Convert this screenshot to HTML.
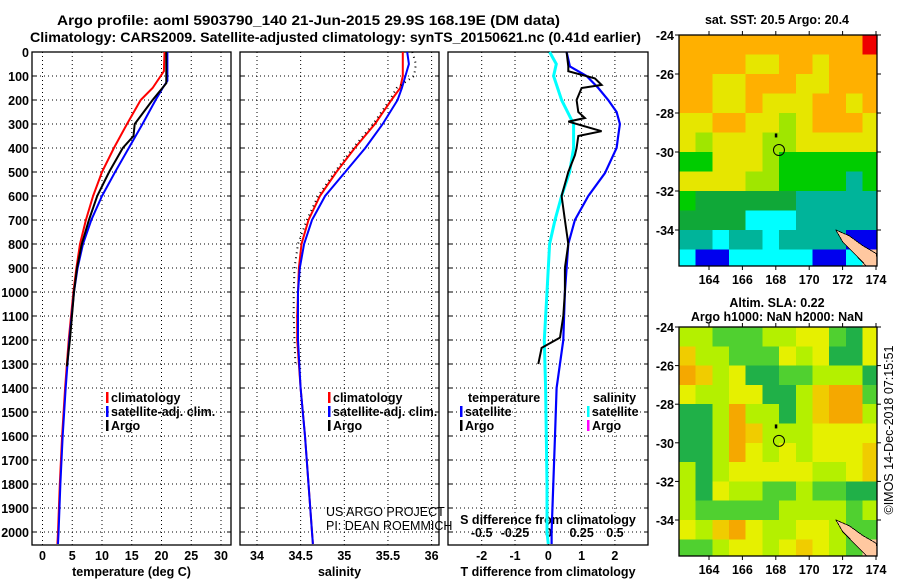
<!DOCTYPE html>
<html><head><meta charset="utf-8"><style>
html,body{margin:0;padding:0;background:#fff;}
svg{display:block;font-family:"Liberation Sans",sans-serif;}
.b{font-weight:bold;font-size:14px;}
.t{font-weight:bold;font-size:12.5px;}
</style></head><body>
<svg id="chart" width="900" height="580" viewBox="0 0 900 580" xmlns="http://www.w3.org/2000/svg">
<text class="b" x="57" y="25" textLength="503" lengthAdjust="spacingAndGlyphs">Argo profile: aoml 5903790_140 21-Jun-2015 29.9S 168.19E (DM data)</text>
<text class="b" x="30" y="42" textLength="611" lengthAdjust="spacingAndGlyphs">Climatology: CARS2009. Satellite-adjusted climatology: synTS_20150621.nc (0.41d earlier)</text>
<g id="g"></g>
</svg>
<script>
// ---- data ----
const depthTicks=[0,100,200,300,400,500,600,700,800,900,1000,1100,1200,1300,1400,1500,1600,1700,1800,1900,2000];
const tempTicks=[0,5,10,15,20,25,30];
const salTicks=[34,34.5,35,35.5,36];
const tdTicks=[-2,-1,0,1,2];
const sdTicks=[-0.5,-0.25,0,0.25,0.5];
const sdTickLabels=["-0.5","-0.25","0","0.25","0.5"];
const tClimD=[0,80,150,200,300,400,500,600,700,800,900,1000,1200,1400,1600,1800,2000,2050];
const tClimV=[20.5,20.4,18.5,16.5,14.2,12,10,8.5,7.3,6.3,5.7,5.2,4.4,3.8,3.3,2.9,2.6,2.5];
const tSatD=[0,120,150,200,300,400,500,600,700,800,900,1000,1200,1400,1600,1800,2000,2050];
const tSatV=[21,21,20.2,19,16.8,14.5,12.2,10,8.2,6.8,5.9,5.3,4.5,3.9,3.4,3,2.7,2.6];
const tArgoD=[0,130,170,200,300,350,400,500,600,700,800,900,1000,1200,1310];
const tArgoV=[20.8,20.8,19.5,18.5,15.5,15.3,13.5,11.2,9.2,7.8,6.6,5.8,5.3,4.6,4.1];
const sClimD=[0,100,150,200,300,400,500,600,700,800,900,1000,1100,1200,1400,1600,1800,2000,2050];
const sClimV=[35.67,35.67,35.64,35.54,35.35,35.12,34.91,34.72,34.59,34.51,34.48,34.47,34.46,34.46,34.5,34.55,34.59,34.63,34.64];
const sSatD=[0,50,100,150,200,300,400,500,600,700,800,900,1000,1200,1400,1600,1800,2000,2050];
const sSatV=[35.72,35.74,35.7,35.66,35.61,35.44,35.24,35.01,34.78,34.63,34.54,34.49,34.47,34.47,34.5,34.55,34.59,34.63,34.64];
const sArgoD=[0,50,100,150,200,300,400,500,600,700,800,900,1000,1100,1200,1300];
const sArgoV=[35.78,35.82,35.8,35.6,35.52,35.33,35.1,34.89,34.7,34.57,34.47,34.43,34.42,34.42,34.43,34.44];
const dTArgoD=[0,60,80,110,137,150,200,250,275,290,330,350,400,430,500,600,700,750,800,900,1000,1100,1190,1233,1300];
const dTArgoV=[0.55,0.6,0.6,1.4,1.6,1.0,0.85,0.9,1.1,0.6,1.6,0.9,0.85,0.8,0.6,0.4,0.5,0.55,0.6,0.5,0.5,0.45,0.35,-0.2,-0.3];
const dTSatD=[0,60,100,150,200,250,300,350,400,505,600,700,800,900,1000,1200,1400,1600,1800,2000,2050];
const dTSatV=[0.55,0.65,1.15,1.5,1.8,2.05,2.15,2.1,2.05,1.7,1.2,0.8,0.6,0.55,0.5,0.45,0.25,0.2,0.15,0.1,0.1];
const dSSatD=[0,50,100,200,300,400,500,600,700,800,1000,1200,1400,1600,1800,2000,2050];
const dSSatV=[0.01,0.06,0.04,0.1,0.19,0.19,0.16,0.1,0.05,0.01,-0.01,-0.03,-0.02,-0.015,-0.01,-0.01,0];
const lonTicks=[164,166,168,170,172,174];
const latTicks=[-24,-26,-28,-30,-32,-34];
const sstGrid=["OOOOOOOOOOOR","OOOOYYOOYOOO","OOYYOOOYYOOO","OOYYOYYYOOYO","YYOOYYLYOOOY","YLYYYLLYYYYY","GGYYYLGGGGGG","YYYYLLGGGGTG","GDDDDDDTTTTT","DDDDCCCTTTTT","TTCTTCTTTTBB","CBBCCCCCBBCP"];
const slaGrid=["LLGGGLLYYGDY","oLLGGGYLYDDY","OoLYDDGGLLLD","YLLYYDDLoOOG","DDLOLLDLoOOL","DDLOoLLLYYYY","DDLOYLYLYYYo","LDLYYYYYLLYo","LDYLLGGLGGDD","LGGGGGLLLLGL","YLoOYLLYYLGG","GGLYYLYoYLGP"];
const floatLon=168.19, floatLat=-29.9;
// ---- scales ----
const yD=d=>52+d*0.24;
const xT=t=>42.5+t*5.95;
const xS=s=>257+(s-34)*87.3;
const xTd=t=>548.3+t*33.3;
const xSd=s=>548.3+s*133.3;
const m1x=l=>709+(l-164)*16.7, m1y=la=>35+(-24-la)*19.5;
const m2x=l=>709+(l-164)*16.7, m2y=la=>327+(-24-la)*19.3;
const NS="http://www.w3.org/2000/svg";
const G=document.getElementById('g');
function el(tag,attrs,parent,txt){const e=document.createElementNS(NS,tag);for(const k in attrs)e.setAttribute(k,attrs[k]);if(txt!==undefined)e.textContent=txt;(parent||G).appendChild(e);return e;}
function panel(name,x0,x1,xticks,xf,labels,title){
  const g=el('g',{});
  
  
  depthTicks.forEach(d=>{if(d>0){const l=el('line',{x1:x0,x2:x1,y1:yD(d),y2:yD(d),stroke:'#000','stroke-width':1,'stroke-dasharray':'1 3'},g);
    }
    el('line',{x1:x0,x2:x0+4,y1:yD(d),y2:yD(d),stroke:'#000'},g);el('line',{x1:x1-4,x2:x1,y1:yD(d),y2:yD(d),stroke:'#000'},g);});
  xticks.forEach((v,i)=>{const x=xf(v);const l=el('line',{x1:x,x2:x,y1:52,y2:545,stroke:'#000','stroke-width':1,'stroke-dasharray':'1 3'},g);
    
    if(labels){const t=el('text',{x:x,y:560,'text-anchor':'middle',class:'t'},g,labels[i]);}});
  const r=el('rect',{x:x0,y:52,width:x1-x0,height:493,fill:'none',stroke:'#000','stroke-width':1.3},g);
  
  if(title){const t=el('text',{x:(x0+x1)/2,y:576,'text-anchor':'middle',class:'t'},g,title);}
  return g;
}
function line(name,D,V,xf,color,w,dash){
  const pts=D.map((d,i)=>xf(V[i]).toFixed(1)+','+yD(d).toFixed(1)).join(' ');
  const p=el('polyline',{points:pts,fill:'none',stroke:color,'stroke-width':w});
  if(dash)p.setAttribute('stroke-dasharray',dash);
  
  
}
function legend(name,x,y,color,label){
  const g=el('g',{});
  
  
  el('rect',{x:x,y:y-10,width:2.5,height:11,fill:color},g);
  el('text',{x:x+5,y:y,class:'t'},g,label);
}
// panel 1
panel('temperature-panel',32,231,tempTicks,xT,tempTicks.map(String),'temperature (deg C)');
depthTicks.forEach(d=>{const t=el('text',{x:29,y:yD(d)+5,'text-anchor':'end',class:'t'},G,String(d));
  
  });
line('temp-climatology-line',tClimD,tClimV,xT,'#f00',2);
line('temp-satellite-line',tSatD,tSatV,xT,'#00f',2);
line('temp-argo-line',tArgoD,tArgoV,xT,'#000',2);
legend('legend-climatology',106,402,'#f00','climatology');
legend('legend-satellite-adj',106,416,'#00f','satellite-adj. clim.');
legend('legend-argo',106,430,'#000','Argo');
// panel 2
panel('salinity-panel',240,439,salTicks,xS,salTicks.map(String),'salinity');
line('sal-climatology-line',sClimD,sClimV,xS,'#f00',2);
line('sal-satellite-line',sSatD,sSatV,xS,'#00f',2);
line('sal-argo-dots',sArgoD,sArgoV,xS,'#000',2,'1 4');
legend('legend-sal-climatology',328,402,'#f00','climatology');
legend('legend-sal-satellite-adj',328,416,'#00f','satellite-adj. clim.');
legend('legend-sal-argo',328,430,'#000','Argo');
const p1=el('text',{x:326,y:516,'font-size':'12.5px'},G,'US ARGO PROJECT');


const p2=el('text',{x:326,y:530,'font-size':'12.5px'},G,'PI: DEAN ROEMMICH');


// panel 3
panel('difference-panel',448,648,tdTicks,xTd,tdTicks.map(String),'T difference from climatology');
sdTicks.forEach((v,i)=>{const t=el('text',{x:xSd(v),y:537,'text-anchor':'middle',class:'t'},G,sdTickLabels[i]);
  
  });
const sdt=el('text',{x:548,y:524,'text-anchor':'middle',class:'t'},G,'S difference from climatology');


line('sdiff-satellite-line',dSSatD,dSSatV,xSd,'#0ff',3);
line('tdiff-satellite-line',dTSatD,dTSatV,xTd,'#00f',2.2);
line('tdiff-argo-line',dTArgoD,dTArgoV,xTd,'#000',2);
const lt=el('text',{x:468,y:402,class:'t'},G,'temperature');


legend('legend-t-satellite',460,416,'#00f','satellite');
legend('legend-t-argo',460,430,'#000','Argo');
const ls=el('text',{x:593,y:402,class:'t'},G,'salinity');


legend('legend-s-satellite',587,416,'#0ff','satellite');
legend('legend-s-argo',587,430,'#f0f','Argo');
// maps
const C1={O:'#ffb000',Y:'#e6e600',L:'#a0e600',G:'#00cc00',D:'#10a838',T:'#00b49a',C:'#00ffff',B:'#0000ee',R:'#ee0000',P:'#ffc8a0'};
const C2={O:'#f5a800',o:'#f0cc00',Y:'#e6f000',L:'#b4f000',G:'#50d030',D:'#20b048',P:'#ffc8a0'};
function map(name,grid,cols,xf,yf,top,bot,title1,title2){
  const g=el('g',{});
  
  
  const id='clip'+name;
  const cp=el('clipPath',{id:id},g);el('rect',{x:679,y:top,width:198,height:bot-top},cp);
  const cg=el('g',{'clip-path':'url(#'+id+')','shape-rendering':'crispEdges'},g);
  grid.forEach((row,r)=>{[...row].forEach((c,k)=>{
    const lon=162.2+k, lat=-24-r;
    const cell=el('rect',{x:xf(lon),y:yf(lat),width:xf(lon+1)-xf(lon)+0.5,height:yf(lat-1)-yf(lat)+0.5,fill:cols[c]},cg);
    
    
  });});
  const coast=[[171.6,-34.0],[172.4,-34.3],[173.2,-34.8],[174.0,-35.2],[174.2,-36],[173.6,-36],[172.8,-35.3],[172.0,-34.6]];
  el('polygon',{points:coast.map(p=>xf(p[0])+','+yf(p[1])).join(' '),fill:'#ffc8a0',stroke:'#000','stroke-width':0.8},cg);
  const cc=el('circle',{cx:xf(floatLon),cy:yf(floatLat),r:5.5,fill:'none',stroke:'#000','stroke-width':1},g);
  
  
  el('rect',{x:xf(168)-1,y:yf(-29.1)-1,width:2.5,height:4,fill:'#000'},g);
  el('rect',{x:679,y:top,width:198,height:bot-top,fill:'none',stroke:'#000','stroke-width':1.3},g);
  lonTicks.forEach(l=>{el('line',{x1:xf(l),x2:xf(l),y1:bot,y2:bot+4,stroke:'#000'},g);el('line',{x1:xf(l),x2:xf(l),y1:top,y2:top-4,stroke:'#000'},g);
    const t=el('text',{x:xf(l),y:bot+18,'text-anchor':'middle',class:'t'},g,String(l));});
  latTicks.forEach(la=>{el('line',{x1:675,x2:679,y1:yf(la),y2:yf(la),stroke:'#000'},g);el('line',{x1:877,x2:881,y1:yf(la),y2:yf(la),stroke:'#000'},g);
    const t=el('text',{x:674,y:yf(la)+5,'text-anchor':'end',class:'t'},g,String(la));});
  const a=el('text',{x:777,y:title2?top-20:top-11,'text-anchor':'middle',class:'t'},g,title1);
  if(title2){const b=el('text',{x:777,y:top-6,'text-anchor':'middle',class:'t'},g,title2);}
}
map('sst-map',sstGrid,C1,m1x,m1y,35,266,'sat. SST: 20.5 Argo: 20.4');
map('sla-map',slaGrid,C2,m2x,m2y,327,556,'Altim. SLA: 0.22','Argo h1000: NaN h2000: NaN');
const cr=el('text',{x:0,y:0,'font-size':'12.5px',transform:'translate(893,430) rotate(-90)','text-anchor':'middle'},G,'©IMOS 14-Dec-2018 07:15:51');


</script>
</body></html>
